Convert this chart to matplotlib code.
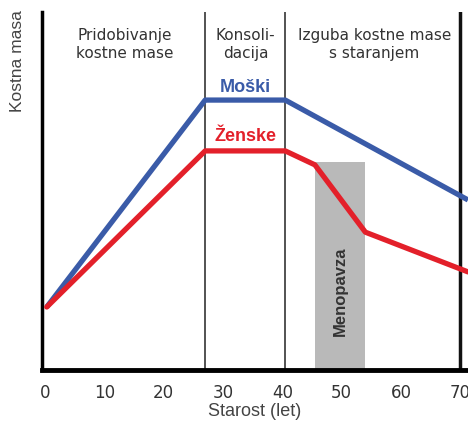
import matplotlib
matplotlib.use("Agg")
import matplotlib.pyplot as plt

# Data
ages_men = [0.3, 27, 40.5, 71.3]
mass_men = [17.6, 75.4, 75.4, 47.5]
ages_women = [0.3, 27, 40.5, 45.5, 54, 71.3]
mass_women = [17.6, 61.2, 61.2, 57.3, 38.5, 27.4]
phase_bounds = [27, 40.5, 70]
menopause = [45.5, 54]
menopause_top = 58
xticks = [0, 10, 20, 30, 40, 50, 60, 70]
phase_labels = ["Pridobivanje\nkostne mase", "Konsoli-\ndacija", "Izguba kostne mase\ns staranjem"]
phase_centers = [13.5, 33.8, 55.5]

plt.rcParams['font.family'] = ['DejaVu Sans']

fig = plt.figure(figsize=(4.68, 4.26), dpi=100)
ax = fig.add_axes([42/468, 56/426, 1 - 42/468, (370-12)/426])
ax.set_xlim(-0.5, 71.3)
ax.set_ylim(0, 100)

ax.bar((menopause[0]+menopause[1])/2, menopause_top, width=menopause[1]-menopause[0],
       color="#b9b9b9", zorder=1)
ax.text((menopause[0]+menopause[1])/2, 22, "Menopavza", rotation=90, ha="center", va="center",
        fontsize=12, fontweight="bold", color="#333333", family="Liberation Sans")

for b in phase_bounds[:2]:
    ax.axvline(b, color="#444444", lw=1.3, zorder=2)
ax.axvline(phase_bounds[2], color="#111111", lw=2.5, zorder=2)

ax.plot(ages_men, mass_men, color="#3a5ba8", lw=3.8, solid_capstyle="butt", zorder=3, clip_on=False)
ax.plot(ages_women, mass_women, color="#e3202a", lw=3.8, solid_capstyle="round", zorder=4, clip_on=False)

for c, t in zip(phase_centers, phase_labels):
    ax.text(c, 95.5, t, ha="center", va="top", fontsize=11, color="#333333", linespacing=1.25)

ax.text(33.8, 78.8, "Moški", ha="center", va="center", fontsize=13, fontweight="bold",
        color="#3a5ba8", family="Liberation Sans")
ax.text(33.8, 65.1, "Ženske", ha="center", va="center", fontsize=13, fontweight="bold",
        color="#e3202a", family="Liberation Sans")

for s in ["top", "right"]:
    ax.spines[s].set_visible(False)
ax.spines["left"].set_linewidth(2.5)
ax.spines["bottom"].set_linewidth(3.5)
ax.set_xticks(xticks)
ax.set_xticklabels([str(x) for x in xticks], fontsize=12, color="#333333")
ax.tick_params(axis="x", length=0, pad=10)
ax.set_yticks([])
ax.set_xlabel("Starost (let)", fontsize=13, color="#444444", labelpad=1, family="Liberation Sans")
fig.text(18/468, 1 - 10/426, "Kostna masa", rotation=90, ha="center", va="top",
         fontsize=12.5, color="#444444", family="Liberation Sans")

fig.savefig("out.png", dpi=100)
